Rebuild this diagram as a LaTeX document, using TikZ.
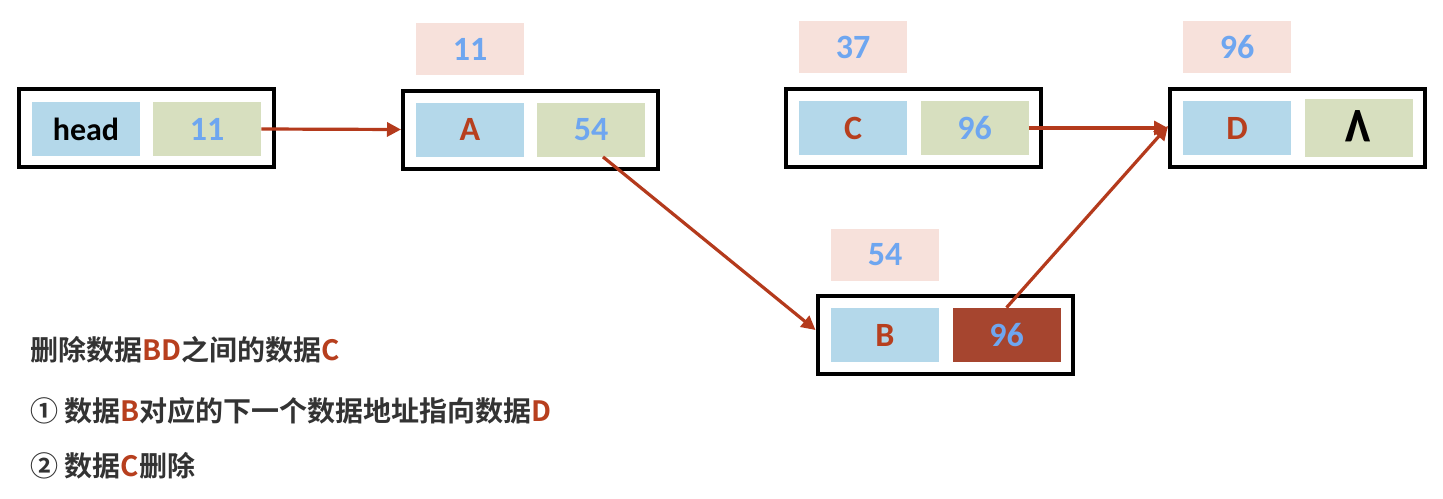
\documentclass[tikz,border=0pt]{standalone}
\usepackage{fontspec}
\usepackage{graphicx}
\setmainfont{Carlito}
\newfontfamily\cjk[BoldFont={* Bold}]{Noto Sans CJK SC}
\usetikzlibrary{arrows.meta,calc}
\definecolor{cellblue}{HTML}{B4D8EA}
\definecolor{cellgreen}{HTML}{D7DFBF}
\definecolor{lblpink}{HTML}{F7E1DB}
\definecolor{numblue}{HTML}{6EA6F0}
\definecolor{redtxt}{HTML}{B73F1E}
\definecolor{darkcell}{HTML}{A6452F}
\definecolor{arrowred}{HTML}{B43A1C}
\definecolor{graytxt}{HTML}{333333}
\tikzset{
  outerbox/.style={draw=black,line width=2pt,minimum width=127.5pt,minimum height=39pt,inner sep=0pt},
  cellbox/.style={minimum width=54pt,minimum height=27pt,inner sep=0pt,font=\fontsize{17}{17}\selectfont\bfseries},
  datacell/.style={cellbox,fill=cellblue,text=redtxt},
  ptrcell/.style={cellbox,fill=cellgreen,text=numblue},
  addrlbl/.style={cellbox,fill=lblpink,text=numblue,minimum height=26pt},
  link/.style={draw=arrowred,line width=1.6pt,-{Triangle[length=7pt,width=7pt]}},
  note/.style={anchor=west,inner sep=0pt,text=graytxt,font=\cjk\bfseries\fontsize{14}{14}\selectfont}
}
\begin{document}
\begin{tikzpicture}[x=0.5pt,y=-0.5pt]
\useasboundingbox[fill=white] (0,0) rectangle (1443,498);
% head
\node[outerbox] (hbox) at (146,128) {};
\node[datacell,text=black,font=\fontsize{16}{16}\selectfont\bfseries] (hd) at (86,129) {head};
\node[ptrcell] (h11) at (207,129) {11};
% A
\node[addrlbl] (la) at (470,49) {11};
\node[outerbox] (abox) at (530.5,129.5) {};
\node[datacell] (aa) at (470,129.5) {A};
\node[ptrcell] (a54) at (591,129.5) {54};
% C
\node[addrlbl] (lc) at (853,47) {37};
\node[outerbox] (cbox) at (913.5,128) {};
\node[datacell] (cc) at (853,128) {C};
\node[ptrcell] (c96) at (974.5,128) {96};
% D
\node[addrlbl] (ld) at (1237,47) {96};
\node[outerbox] (dbox) at (1297.5,128) {};
\node[datacell] (dd) at (1237,128) {D};
\node[ptrcell,text=black] (dnull) at (1358.5,128) {\raisebox{-6pt}[\height][\depth]{\scalebox{0.85}[1.35]{\fontsize{32}{32}\selectfont\textasciicircum}}};
% B
\node[addrlbl] (lb) at (885,255) {54};
\node[outerbox] (bbox) at (945,335) {};
\node[datacell] (bb) at (885,335) {B};
\node[ptrcell,fill=darkcell] (b96) at (1006.5,335) {96};
% links
\draw[link] (h11.east) -- (abox.west);
\draw[link] ([xshift=6pt]a54.south) -- ([yshift=2.5pt]bbox.west);
\draw[link] (c96.east) -- (dbox.west);
\draw[link] (b96.north) -- ([yshift=1pt]dbox.west);
% notes
\node[note] (n1) at (30,350) {删除数据\textcolor{redtxt}{BD}之间的数据\textcolor{redtxt}{C}};
\node[note] (n2) at (30,411) {① 数据\textcolor{redtxt}{B}对应的下一个数据地址指向数据\textcolor{redtxt}{D}};
\node[note] (n3) at (30,466) {② 数据\textcolor{redtxt}{C}删除};
\end{tikzpicture}
\end{document}
